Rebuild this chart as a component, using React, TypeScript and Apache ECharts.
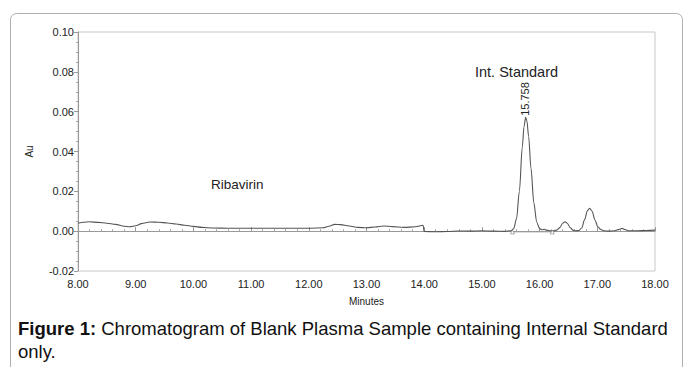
import React, { useEffect, useRef } from "react";
import * as echarts from "echarts";

// Chromatogram trace (minutes, Au)
const earlyBaseline: [number, number][] = [
  [8.0, 0.004], [8.1, 0.0045], [8.2, 0.0047], [8.35, 0.0044], [8.5, 0.004],
  [8.65, 0.0034], [8.8, 0.0025], [8.9, 0.0022], [9.0, 0.0027], [9.1, 0.0038],
  [9.25, 0.0046], [9.4, 0.0045], [9.55, 0.0041], [9.7, 0.0036], [9.85, 0.003],
  [10.0, 0.0024], [10.15, 0.0019], [10.35, 0.0016], [10.6, 0.0015], [11.0, 0.0015],
  [11.5, 0.0015], [12.0, 0.0015], [12.25, 0.0017], [12.35, 0.0025], [12.45, 0.0034],
  [12.55, 0.0033], [12.7, 0.0026], [12.85, 0.0019], [13.0, 0.0017], [13.15, 0.0021],
  [13.3, 0.0026], [13.45, 0.0023], [13.65, 0.0019], [13.85, 0.0022], [13.98, 0.003],
];
const lateBaseline: [number, number][] = [
  [14.0, -0.0002], [14.2, -0.0003], [14.4, -0.0002], [14.6, 0.0001], [14.8, 0.0],
  [15.0, 0.0002], [15.2, 0.0], [15.4, -0.0001],
];
const internalStandardPeak: [number, number][] = [
  [15.5, 0.0002], [15.55, 0.0012], [15.6, 0.0062], [15.65, 0.0202], [15.7, 0.0423],
  [15.73, 0.0525], [15.758, 0.0572], [15.78, 0.0553], [15.81, 0.0475], [15.85, 0.0318],
  [15.9, 0.0142], [15.95, 0.0045], [16.0, 0.0013], [16.05, 0.0007], [16.08, 0.001],
  [16.12, 0.0005], [16.2, 0.0001],
];
const minorPeaks: [number, number][] = [
  [16.25, 0.0002], [16.3, 0.0006], [16.35, 0.0018], [16.4, 0.004], [16.44, 0.0047],
  [16.48, 0.004], [16.53, 0.0018], [16.58, 0.0005], [16.63, 0.0002],
  [16.68, 0.0003], [16.73, 0.0016], [16.78, 0.0058], [16.83, 0.0104], [16.87, 0.0115],
  [16.91, 0.01], [16.96, 0.0055], [17.01, 0.0022], [17.06, 0.0008], [17.12, 0.0002],
  [17.2, 0.0], [17.3, 0.0002], [17.38, 0.0009], [17.43, 0.0014], [17.48, 0.0008],
  [17.55, 0.0002], [17.7, 0.0002], [17.85, 0.0003], [18.0, 0.0005],
];
const integrationMarks: [number, number][] = [[15.53, -0.0004], [16.22, -0.0004]];

const xTicks = { min: 8, max: 18, interval: 1 };
const yTicks = { min: -0.02, max: 0.1, interval: 0.02 };

const peakLabel = "15.758";
const compoundLabels = ["Ribavirin", "Int. Standard"];
const captionBold = "Figure 1:";
const captionLine1 = " Chromatogram of Blank Plasma Sample containing Internal Standard";
const captionLine2 = "only.";

export default function App() {
  const ref = useRef<HTMLDivElement>(null);
  useEffect(() => {
    if (!ref.current) return;
    const chart = echarts.init(ref.current, undefined, { renderer: "svg" });
    const trace = [...earlyBaseline, ...lateBaseline, ...internalStandardPeak, ...minorPeaks];
    const font = "'Liberation Sans', Arial, sans-serif";
    chart.setOption({
      animation: false,
      backgroundColor: "#ffffff",
      textStyle: { fontFamily: font },
      grid: {
        left: 78, right: 30, top: 32, bottom: 96,
        show: true, borderColor: "#c8c8c8", borderWidth: 1,
      },
      xAxis: {
        type: "value",
        min: xTicks.min, max: xTicks.max, interval: xTicks.interval,
        name: "Minutes", nameLocation: "middle", nameGap: 25,
        nameTextStyle: { fontSize: 10, color: "#222", fontFamily: font },
        axisLine: { lineStyle: { color: "#999", width: 1 } },
        axisTick: { inside: true, length: 4, lineStyle: { color: "#999" } },
        minorTick: { show: true, splitNumber: 5, length: 2, lineStyle: { color: "#aaa" } },
        splitLine: { show: false },
        axisLabel: { fontSize: 11, color: "#222", margin: 7, formatter: (v: number) => v.toFixed(2) },
      },
      yAxis: {
        type: "value",
        min: yTicks.min, max: yTicks.max, interval: yTicks.interval,
        name: "Au", nameLocation: "middle", nameGap: 44, nameRotate: 90,
        nameTextStyle: { fontSize: 10, color: "#222", fontFamily: font },
        axisLine: { show: true, lineStyle: { color: "#999", width: 1 } },
        axisTick: { show: true, length: 4, lineStyle: { color: "#999" } },
        minorTick: { show: true, splitNumber: 4, length: 2, lineStyle: { color: "#aaa" } },
        splitLine: { show: false },
        axisLabel: { fontSize: 11, color: "#222", margin: 4, formatter: (v: number) => v.toFixed(2) },
      },
      series: [
        {
          type: "line",
          data: trace,
          showSymbol: false,
          smooth: 0.3,
          smoothMonotone: "x",
          lineStyle: { color: "#555", width: 1.1 },
        },
        {
          type: "line",
          data: integrationMarks,
          symbol: "triangle",
          symbolSize: 4,
          itemStyle: { color: "#fff", borderColor: "#888", borderWidth: 0.7 },
          lineStyle: { color: "#999", width: 0.7 },
        },
      ],
      graphic: [
        {
          type: "rect",
          shape: { x: 10.5, y: 13.5, width: 672, height: 420, r: 6 },
          style: { fill: "none", stroke: "#b0b0b0", lineWidth: 1 },
          silent: true,
        },
        {
          type: "text", x: 211, y: 184,
          style: { text: compoundLabels[0], font: `13.5px ${font}`, fill: "#222", verticalAlign: "middle" },
        },
        {
          type: "text", x: 475, y: 72,
          style: { text: compoundLabels[1], font: `14.5px ${font}`, fill: "#222", verticalAlign: "middle" },
        },
        {
          type: "text", x: 525, y: 99, rotation: Math.PI / 2,
          style: { text: peakLabel, font: `11px ${font}`, fill: "#222", align: "center", verticalAlign: "middle" },
        },
        {
          type: "text", x: 18, y: 328,
          style: {
            text: `{b|${captionBold}}{n|${captionLine1}}`,
            verticalAlign: "middle",
            rich: {
              b: { font: `bold 18.5px ${font}`, fill: "#111" },
              n: { font: `18.5px ${font}`, fill: "#111" },
            },
          },
        },
        {
          type: "text", x: 18, y: 351,
          style: { text: captionLine2, font: `18.5px ${font}`, fill: "#111", verticalAlign: "middle" },
        },
      ],
    });
    return () => chart.dispose();
  }, []);
  return <div ref={ref} style={{ position: "absolute", left: 0, top: 0, width: 685, height: 367 }} />;
}
